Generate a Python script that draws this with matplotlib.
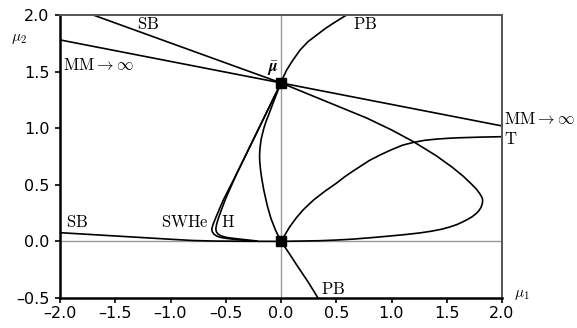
import matplotlib
matplotlib.use("Agg")
import matplotlib.pyplot as plt

plt.rcParams["mathtext.fontset"] = "cm"
plt.rcParams["font.family"] = ["DejaVu Sans"]

# codimension-two points
mu_bar = (0.0, 1.40)
origin = (0.0, 0.0)

# saddle-node curve: lower-left branch, loop on the right, upper-left branch
sb_x = [-2.0, -1.5, -1.0, -0.8, -0.6, -0.3, 0.0, 0.35, 0.5, 0.65, 0.805, 0.9, 1.0,
        1.13, 1.258, 1.36, 1.45, 1.52, 1.59, 1.64, 1.69, 1.73, 1.765, 1.79, 1.81,
        1.822, 1.825, 1.818, 1.80, 1.77, 1.72, 1.65, 1.55, 1.4, 1.2, 1.0, 0.775,
        0.55, 0.35, 0.175, 0.0, -0.85, -1.70]
sb_y = [0.077, 0.048, 0.019, 0.008, 0.003, 0.001, 0.0, 0.006, 0.012, 0.02, 0.032,
        0.04, 0.049, 0.061, 0.075, 0.09, 0.107, 0.125, 0.148, 0.17, 0.195, 0.218,
        0.245, 0.27, 0.30, 0.335, 0.366, 0.39, 0.42, 0.46, 0.51, 0.575, 0.655, 0.76,
        0.88, 0.985, 1.09, 1.18, 1.26, 1.33, 1.40, 1.70, 2.0]

# period-doubling curve
pb_x = [0.335, 0.24, 0.15, 0.07, 0.0, -0.025, -0.05, -0.07, -0.09, -0.108, -0.125,
        -0.14, -0.155, -0.167, -0.178, -0.186, -0.192, -0.194, -0.192, -0.187, -0.18,
        -0.168, -0.155, -0.137, -0.115, -0.09, -0.065, -0.045, -0.025, -0.012, 0.0,
        0.02, 0.051, 0.10, 0.172, 0.245, 0.323, 0.40, 0.473, 0.535, 0.594]
pb_y = [-0.5, -0.35, -0.22, -0.10, 0.0, 0.05, 0.10, 0.15, 0.20, 0.26, 0.32, 0.385,
        0.45, 0.515, 0.58, 0.64, 0.70, 0.75, 0.80, 0.85, 0.90, 0.95, 1.00, 1.055,
        1.11, 1.175, 1.24, 1.29, 1.34, 1.37, 1.40, 1.45, 1.514, 1.59, 1.69, 1.765,
        1.823, 1.88, 1.927, 1.965, 2.0]

# MM -> infinity line
mm_x = [-2.0, 0.0, 2.0]
mm_y = [1.78, 1.40, 1.02]

# T curve
t_x = [0.0, 0.02, 0.04, 0.06, 0.08, 0.11, 0.14, 0.2, 0.25, 0.3, 0.4, 0.5, 0.575,
       0.65, 0.8, 0.9, 1.0, 1.1, 1.2, 1.3, 1.4, 1.5, 1.6, 1.8, 2.0]
t_y = [0.0, 0.033, 0.065, 0.098, 0.13, 0.17, 0.21, 0.278, 0.325, 0.37, 0.445, 0.513,
       0.57, 0.62, 0.715, 0.765, 0.81, 0.85, 0.875, 0.893, 0.903, 0.91, 0.915, 0.921,
       0.925]

# SWHe and H curves
swhe_x = [0.0, -0.2, -0.4, -0.52, -0.56, -0.59, -0.613, -0.627, -0.622, -0.605,
          -0.58, -0.54, -0.49, -0.42, -0.34, -0.28, -0.22]
swhe_y = [1.40, 1.00, 0.60, 0.37, 0.28, 0.21, 0.155, 0.11, 0.085, 0.062, 0.046,
          0.034, 0.026, 0.018, 0.011, 0.006, 0.002]
h_x = [0.0, -0.2, -0.40, -0.45, -0.50, -0.535, -0.563, -0.582, -0.59, -0.585, -0.57,
       -0.545, -0.505, -0.45, -0.38, -0.30, -0.22]
h_y = [1.40, 1.00, 0.60, 0.49, 0.38, 0.29, 0.215, 0.155, 0.11, 0.085, 0.065, 0.05,
       0.038, 0.029, 0.021, 0.012, 0.004]

xticks = [-2.0, -1.5, -1.0, -0.5, 0.0, 0.5, 1.0, 1.5, 2.0]
yticks = [-0.5, 0.0, 0.5, 1.0, 1.5, 2.0]

fig = plt.figure(figsize=(5.77, 3.28), dpi=100)
ax = fig.add_axes([60 / 577, 1 - 298 / 328, 442 / 577, 283 / 328])

ax.axhline(0, color="#999999", lw=1.0, zorder=1)
ax.axvline(0, color="#999999", lw=1.0, zorder=1)

lw = 1.2
ax.plot(sb_x, sb_y, color="black", lw=lw, zorder=2)
ax.plot(pb_x, pb_y, color="black", lw=lw, zorder=2)
ax.plot(mm_x, mm_y, color="black", lw=lw, zorder=2)
ax.plot(t_x, t_y, color="black", lw=lw, zorder=2)
ax.plot(swhe_x, swhe_y, color="black", lw=lw, zorder=2)
ax.plot(h_x, h_y, color="black", lw=lw, zorder=2)

ax.plot(*mu_bar, "s", color="black", ms=6.5, zorder=3, clip_on=False)
ax.plot(*origin, "s", color="black", ms=6.5, zorder=3, clip_on=False)

ax.set_xlim(-2, 2)
ax.set_ylim(-0.5, 2)
ax.set_xticks(xticks)
ax.set_yticks(yticks)
ax.set_xticklabels([f"{v:.1f}".replace("-", "\u2013") for v in xticks])
ax.set_yticklabels([f"{v:.1f}".replace("-", "\u2013") for v in yticks])
ax.tick_params(labelsize=11.5, length=3.5, width=1.2, direction="out",
               top=False, right=False)
ax.tick_params(axis="x", pad=2)
ax.tick_params(axis="y", pad=4)

for side in ("left", "bottom"):
    ax.spines[side].set_linewidth(1.8)
    ax.spines[side].set_color("black")
for side in ("top", "right"):
    ax.spines[side].set_linewidth(1.4)
    ax.spines[side].set_color("#555555")

fs = 12
ax.text(-1.20, 1.92, r"$\mathrm{SB}$", fontsize=fs, ha="center", va="center")
ax.text(-1.97, 1.56, r"$\mathrm{MM}\rightarrow\infty$", fontsize=fs, ha="left", va="center")
ax.text(0.65, 1.92, r"$\mathrm{PB}$", fontsize=fs, ha="left", va="center")
ax.text(-0.07, 1.53, r"$\bar{\boldsymbol{\mu}}$", fontsize=fs, ha="center", va="center")
ax.text(2.02, 1.08, r"$\mathrm{MM}\rightarrow\infty$", fontsize=fs, ha="left", va="center",
        clip_on=False)
ax.text(2.02, 0.905, r"$\mathrm{T}$", fontsize=fs, ha="left", va="center", clip_on=False)
ax.text(-1.85, 0.17, r"$\mathrm{SB}$", fontsize=fs, ha="center", va="center")
ax.text(-1.09, 0.17, r"$\mathrm{SWHe}$", fontsize=fs, ha="left", va="center")
ax.text(-0.54, 0.17, r"$\mathrm{H}$", fontsize=fs, ha="left", va="center")
ax.text(0.36, -0.42, r"$\mathrm{PB}$", fontsize=fs, ha="left", va="center")

fig.text(514 / 577, 1 - 294 / 328, r"$\mu_1$", fontsize=11, ha="left", va="center")
fig.text(11 / 577, 1 - 38 / 328, r"$\mu_2$", fontsize=11, ha="left", va="center")

fig.savefig("out.png", dpi=100)
